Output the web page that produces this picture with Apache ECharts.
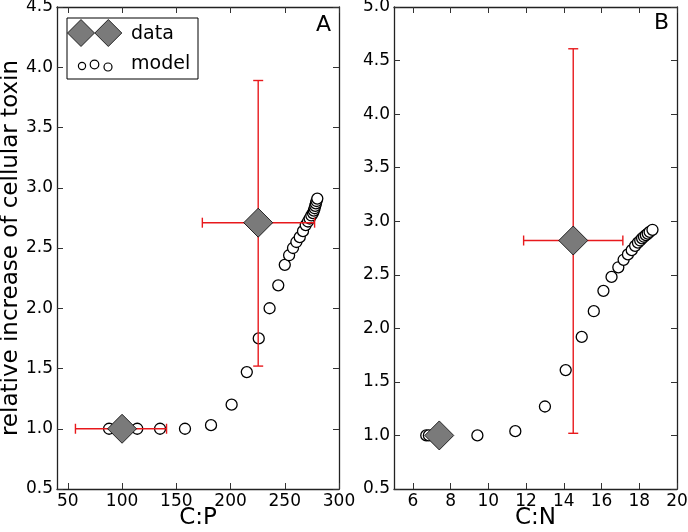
<!DOCTYPE html>
<html>
<head>
<meta charset="utf-8">
<script src="https://cdn.jsdelivr.net/npm/echarts@6/dist/echarts.min.js"></script>
<style>html,body{margin:0;padding:0;background:#fff;}#c{width:688px;height:532px;}</style>
</head>
<body>
<div id="c"></div>
<script>
// ---- Data ----
const xTicksA = [50, 100, 150, 200, 250, 300];
const xTicksB = [6, 8, 10, 12, 14, 16, 18, 20];

const modelA_x = [88, 114, 135, 158, 182, 201, 215, 226, 236, 244, 250, 254, 257.6, 260.7, 263.8, 266.8, 269.3, 271.4, 272.9, 274.5, 276, 276.8, 277.5, 278.1, 278.7, 279.3, 280];
const modelA_y = [1.0, 1.0, 1.0, 1.0, 1.03, 1.2, 1.47, 1.75, 2.0, 2.19, 2.36, 2.44, 2.5, 2.55, 2.59, 2.64, 2.69, 2.72, 2.745, 2.77, 2.79, 2.81, 2.83, 2.85, 2.87, 2.89, 2.91];

const modelB_x = [6.71, 6.85, 9.42, 11.43, 13.0, 14.1, 14.95, 15.59, 16.1, 16.53, 16.89, 17.17, 17.4, 17.6, 17.78, 17.93, 18.05, 18.15, 18.25, 18.35, 18.45, 18.55, 18.7];
const modelB_y = [1.0, 1.0, 1.0, 1.04, 1.27, 1.61, 1.92, 2.16, 2.35, 2.48, 2.57, 2.64, 2.69, 2.73, 2.77, 2.80, 2.82, 2.84, 2.855, 2.87, 2.885, 2.9, 2.92];

const dataA_x = [100, 225.5];
const dataA_y = [1.0, 2.71];
const dataA_xlo = [57, 174];
const dataA_xhi = [141, 277.5];
const dataA_ylo = [1.0, 1.52];
const dataA_yhi = [1.0, 3.89];

const dataB_x = [7.4, 14.5];
const dataB_y = [1.0, 2.82];
const dataB_xlo = [7.4, 11.87];
const dataB_xhi = [7.4, 17.13];
const dataB_ylo = [1.0, 1.02];
const dataB_yhi = [1.0, 4.61];

// ---- Build ----
const FONT = 'DejaVu Sans';
const pairs = (xs, ys) => xs.map((x, i) => [x, ys[i]]);
const errRows = (x, y, xlo, xhi, ylo, yhi) => x.map((v, i) => [v, y[i], xlo[i], xhi[i], ylo[i], yhi[i]]);

const chart = echarts.init(document.getElementById('c'), null, {renderer: 'canvas'});

const frameLine = {show: true, onZero: false, lineStyle: {color: '#222', width: 1.3}};
const tickStyle = {show: true, inside: true, length: 6, lineStyle: {color: '#333', width: 1}};
const lbl = {color: '#000', fontFamily: FONT, fontSize: 17, margin: 4};

function xAx(gi, min, max, ticks, pos, showLbl, name) {
  return {
    type: 'value', gridIndex: gi, position: pos, min: min, max: max,
    axisLine: frameLine,
    axisTick: Object.assign({}, tickStyle, {customValues: ticks}),
    axisLabel: Object.assign({}, lbl, {show: showLbl, customValues: ticks, formatter: v => String(v)}),
    splitLine: {show: false},
    name: name || '', nameLocation: 'middle', nameGap: 18, nameMoveOverlap: false,
    nameTextStyle: {fontFamily: FONT, fontSize: 23, color: '#000', verticalAlign: 'top'}
  };
}
function yAx(gi, min, max, pos, showLbl, name) {
  return {
    type: 'value', gridIndex: gi, position: pos, min: min, max: max, interval: 0.5,
    axisLine: frameLine,
    axisTick: tickStyle,
    axisLabel: Object.assign({}, lbl, {show: showLbl, formatter: v => v.toFixed(1)}),
    splitLine: {show: false},
    name: name || '', nameLocation: 'middle', nameGap: 32, nameRotate: 90,
    nameTextStyle: {fontFamily: FONT, fontSize: 23, color: '#000', verticalAlign: 'bottom'}
  };
}

function errSeries(xi, yi, rows) {
  return {
    type: 'custom', xAxisIndex: xi, yAxisIndex: yi, z: 3, silent: true, clip: false,
    encode: {x: [0, 2, 3], y: [1, 4, 5]},
    data: rows,
    renderItem: function (params, api) {
      const x = api.value(0), y = api.value(1);
      const xlo = api.value(2), xhi = api.value(3), ylo = api.value(4), yhi = api.value(5);
      const st = {stroke: '#e8191c', lineWidth: 1.4};
      const ch = [];
      const cap = 5;
      if (xhi > xlo) {
        const a = api.coord([xlo, y]), b = api.coord([xhi, y]);
        ch.push({type: 'line', shape: {x1: a[0], y1: a[1], x2: b[0], y2: b[1]}, style: st});
        ch.push({type: 'line', shape: {x1: a[0], y1: a[1] - cap, x2: a[0], y2: a[1] + cap}, style: st});
        ch.push({type: 'line', shape: {x1: b[0], y1: b[1] - cap, x2: b[0], y2: b[1] + cap}, style: st});
      }
      if (yhi > ylo) {
        const a = api.coord([x, ylo]), b = api.coord([x, yhi]);
        ch.push({type: 'line', shape: {x1: a[0], y1: a[1], x2: b[0], y2: b[1]}, style: st});
        ch.push({type: 'line', shape: {x1: a[0] - cap, y1: a[1], x2: a[0] + cap, y2: a[1]}, style: st});
        ch.push({type: 'line', shape: {x1: b[0] - cap, y1: b[1], x2: b[0] + cap, y2: b[1]}, style: st});
      }
      return {type: 'group', children: ch};
    }
  };
}

const modelStyle = {color: '#fff', borderColor: '#000', borderWidth: 1.3, opacity: 1};
const dataStyle = {color: '#7a7a7a', borderColor: '#000', borderWidth: 0.8, opacity: 1};

const option = {
  backgroundColor: '#fff',
  animation: false,
  grid: [
    {left: 57, top: 7, width: 282, height: 482, containLabel: false, outerBoundsMode: 'none'},
    {left: 394, top: 7, width: 283, height: 482, containLabel: false, outerBoundsMode: 'none'}
  ],
  xAxis: [
    xAx(0, 40, 300, xTicksA, 'bottom', true, 'C:P'),
    xAx(1, 5, 20, xTicksB, 'bottom', true, 'C:N'),
    xAx(0, 40, 300, xTicksA, 'top', false),
    xAx(1, 5, 20, xTicksB, 'top', false)
  ],
  yAxis: [
    yAx(0, 0.5, 4.5, 'left', true, 'relative increase of cellular toxin'),
    yAx(1, 0.5, 5.0, 'left', true),
    yAx(0, 0.5, 4.5, 'right', false),
    yAx(1, 0.5, 5.0, 'right', false)
  ],
  series: [
    {type: 'scatter', xAxisIndex: 0, yAxisIndex: 0, z: 2, symbol: 'circle', symbolSize: 11,
     itemStyle: modelStyle, data: pairs(modelA_x, modelA_y)},
    {type: 'scatter', xAxisIndex: 1, yAxisIndex: 1, z: 2, symbol: 'circle', symbolSize: 11,
     itemStyle: modelStyle, data: pairs(modelB_x, modelB_y)},
    errSeries(0, 0, errRows(dataA_x, dataA_y, dataA_xlo, dataA_xhi, dataA_ylo, dataA_yhi)),
    errSeries(1, 1, errRows(dataB_x, dataB_y, dataB_xlo, dataB_xhi, dataB_ylo, dataB_yhi)),
    {type: 'scatter', xAxisIndex: 0, yAxisIndex: 0, z: 4, symbol: 'diamond', symbolSize: [29, 29],
     itemStyle: dataStyle, data: pairs(dataA_x, dataA_y)},
    {type: 'scatter', xAxisIndex: 1, yAxisIndex: 1, z: 4, symbol: 'diamond', symbolSize: [29, 29],
     itemStyle: dataStyle, data: pairs(dataB_x, dataB_y)}
  ],
  graphic: [
    {type: 'text', left: 316, top: 14, style: {text: 'A', font: '22px "DejaVu Sans"', fill: '#000'}},
    {type: 'text', left: 654, top: 12, style: {text: 'B', font: '22px "DejaVu Sans"', fill: '#000'}},
    // legend
    {type: 'rect', shape: {x: 67, y: 18, width: 131, height: 61}, style: {fill: '#fff', stroke: '#000', lineWidth: 1}, z: 10},
    {type: 'polygon', shape: {points: [[67.5, 33], [81, 19.5], [94.5, 33], [81, 46.5]]}, style: {fill: '#7a7a7a', stroke: '#000', lineWidth: 0.8}, z: 11},
    {type: 'polygon', shape: {points: [[94.8, 33], [108.3, 19.5], [121.8, 33], [108.3, 46.5]]}, style: {fill: '#7a7a7a', stroke: '#000', lineWidth: 0.8}, z: 11},
    {type: 'text', x: 131, y: 34, style: {text: 'data', font: '19px "DejaVu Sans"', fill: '#000', verticalAlign: 'middle'}, z: 11},
    {type: 'circle', shape: {cx: 82, cy: 66, r: 3.6}, style: {fill: '#fff', stroke: '#000', lineWidth: 1.2}, z: 11},
    {type: 'circle', shape: {cx: 94.5, cy: 64.5, r: 4.3}, style: {fill: '#fff', stroke: '#000', lineWidth: 1.2}, z: 11},
    {type: 'circle', shape: {cx: 108, cy: 67, r: 4}, style: {fill: '#fff', stroke: '#000', lineWidth: 1.2}, z: 11},
    {type: 'text', x: 131, y: 64, style: {text: 'model', font: '19px "DejaVu Sans"', fill: '#000', verticalAlign: 'middle'}, z: 11}
  ]
};
chart.setOption(option);
</script>
</body>
</html>
